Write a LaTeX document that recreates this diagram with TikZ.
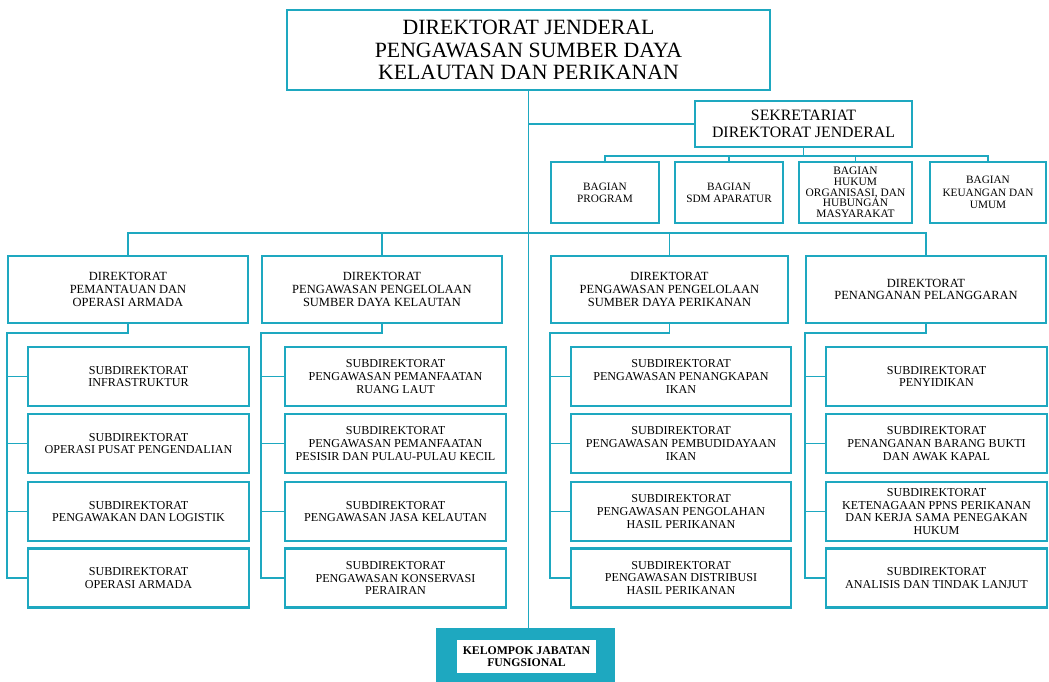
\documentclass[tikz,border=0pt]{standalone}
\usepackage{fontspec}
\setmainfont{Liberation Serif}
\usepackage{tikz}
\usetikzlibrary{calc}

\definecolor{kkpteal}{RGB}{30,168,192}

\tikzset{
	unit/.style={draw=kkpteal, line width=1.15pt, rectangle, inner sep=0pt,
		align=center, fill=white},
	txtsmall/.style={font=\fontsize{6.9}{7.3}\selectfont},
	bagbox/.style={unit, font=\fontsize{6.4}{7}\selectfont, minimum height=1.22cm},
	dirbox/.style={unit, font=\fontsize{7.1}{7.3}\selectfont,
		minimum width=4.8cm, minimum height=1.34cm},
	subbox/.style={unit, txtsmall, minimum width=4.42cm, minimum height=1.18cm},
	link/.style={draw=kkpteal, line width=1.1pt},
}

\begin{document}
\begin{tikzpicture}[x=0.02cm, y=-0.02cm]

% frame %{{{2

	\useasboundingbox (0,0) rectangle (1049,682);

% top %{{{2

	\node[unit, minimum width=9.66cm, minimum height=1.6cm,
		font=\fontsize{12.4}{12.6}\selectfont] (dirjen) at (528.5,50)
		{DIREKTORAT JENDERAL\\PENGAWASAN SUMBER DAYA\\KELAUTAN DAN PERIKANAN};

	\node[unit, minimum width=4.36cm, minimum height=0.92cm,
		font=\fontsize{9}{9.6}\selectfont] (sekre) at (803.5,124)
		{SEKRETARIAT\\DIREKTORAT JENDERAL};

% bagian %{{{2

	\node[bagbox, minimum width=2.16cm] (prog) at (605,192.5)
		{BAGIAN\\PROGRAM};
	\node[bagbox, minimum width=2.16cm] (sdm) at (729,192.5)
		{BAGIAN\\SDM APARATUR};
	\node[bagbox, minimum width=2.26cm, font=\fontsize{6.5}{6.1}\selectfont] (hukum) at (855.5,192.5)
		{BAGIAN\\HUKUM\\ORGANISASI, DAN\\HUBUNGAN\\MASYARAKAT};
	\node[bagbox, minimum width=2.32cm] (keu) at (988,192.5)
		{BAGIAN\\KEUANGAN DAN\\UMUM};

% direktorat %{{{2

	\node[dirbox] (dpoa) at (128,289.5)
		{DIREKTORAT\\PEMANTAUAN DAN\\OPERASI ARMADA};
	\node[dirbox] (dkel) at (382,289.5)
		{DIREKTORAT\\PENGAWASAN PENGELOLAAN\\SUMBER DAYA KELAUTAN};
	\node[dirbox, minimum width=4.74cm] (dper) at (669.5,289.5)
		{DIREKTORAT\\PENGAWASAN PENGELOLAAN\\SUMBER DAYA PERIKANAN};
	\node[dirbox] (dpel) at (926,289.5)
		{DIREKTORAT\\PENANGANAN PELANGGARAN};

% subdirektorat %{{{2

	% pemantauan dan operasi armada
	\node[subbox] (poa1) at (138.5,376.5)
		{SUBDIREKTORAT\\INFRASTRUKTUR};
	\node[subbox] (poa2) at (138.5,443.5)
		{SUBDIREKTORAT\\OPERASI PUSAT PENGENDALIAN};
	\node[subbox] (poa3) at (138.5,511.5)
		{SUBDIREKTORAT\\PENGAWAKAN DAN LOGISTIK};
	\node[subbox] (poa4) at (138.5,578)
		{SUBDIREKTORAT\\OPERASI ARMADA};

	% kelautan
	\node[subbox] (kel1) at (395.5,376.5)
		{SUBDIREKTORAT\\PENGAWASAN PEMANFAATAN\\RUANG LAUT};
	\node[subbox] (kel2) at (395.5,443.5)
		{SUBDIREKTORAT\\PENGAWASAN PEMANFAATAN\\PESISIR DAN PULAU-PULAU KECIL};
	\node[subbox] (kel3) at (395.5,511.5)
		{SUBDIREKTORAT\\PENGAWASAN JASA KELAUTAN};
	\node[subbox] (kel4) at (395.5,578)
		{SUBDIREKTORAT\\PENGAWASAN KONSERVASI\\PERAIRAN};

	% perikanan
	\node[subbox, minimum width=4.4cm] (per1) at (681,376.5)
		{SUBDIREKTORAT\\PENGAWASAN PENANGKAPAN\\IKAN};
	\node[subbox, minimum width=4.4cm] (per2) at (681,443.5)
		{SUBDIREKTORAT\\PENGAWASAN PEMBUDIDAYAAN\\IKAN};
	\node[subbox, minimum width=4.4cm] (per3) at (681,511.5)
		{SUBDIREKTORAT\\PENGAWASAN PENGOLAHAN\\HASIL PERIKANAN};
	\node[subbox, minimum width=4.4cm] (per4) at (681,578)
		{SUBDIREKTORAT\\PENGAWASAN DISTRIBUSI\\HASIL PERIKANAN};

	% penanganan pelanggaran
	\node[subbox] (pel1) at (936.5,376.5)
		{SUBDIREKTORAT\\PENYIDIKAN};
	\node[subbox] (pel2) at (936.5,443.5)
		{SUBDIREKTORAT\\PENANGANAN BARANG BUKTI\\DAN AWAK KAPAL};
	\node[subbox] (pel3) at (936.5,511.5)
		{SUBDIREKTORAT\\KETENAGAAN PPNS PERIKANAN\\DAN KERJA SAMA PENEGAKAN\\HUKUM};
	\node[subbox] (pel4) at (936.5,578)
		{SUBDIREKTORAT\\ANALISIS DAN TINDAK LANJUT};

% kelompok jabatan fungsional %{{{2

	\node[rectangle, fill=kkpteal, inner sep=0pt, minimum width=3.58cm, minimum height=1.08cm]
		(kjf) at (525.5,655) {};
	\node[rectangle, fill=white, inner sep=0pt, minimum width=2.78cm, minimum height=0.66cm,
		align=center, font=\fontsize{6.7}{7.2}\selectfont\bfseries] (kjfin) at (526.5,656.5)
		{KELOMPOK JABATAN\\FUNGSIONAL};

% connectors %{{{2

	\coordinate (dbus) at (dirjen.south |- 0,233);

	\draw[link] (dirjen.south) -- (dirjen.south |- kjf.north);
	\draw[link] (dirjen.south |- sekre.west) -- (sekre.west);

	% bagian
	\foreach \b in {prog,sdm,hukum,keu}
		\draw[link] (sekre.south) -- ++(0,8) -| (\b.north);

	% direktorat
	\foreach \d in {dpoa,dkel,dper,dpel}
		\draw[link] (dbus) -| (\d.north);

	% subdirektorat
	\foreach \d/\s in {dpoa/poa,dkel/kel,dper/per,dpel/pel}{
		\draw[link] (\d.south) -- ++(0,9) -| (\s4.west -| \d.west) -- (\s4.west);
		\foreach \i in {1,2,3}
			\draw[link] (\s\i.west -| \d.west) -- (\s\i.west);
	}

% closing %{{{2

\end{tikzpicture}
\end{document}
